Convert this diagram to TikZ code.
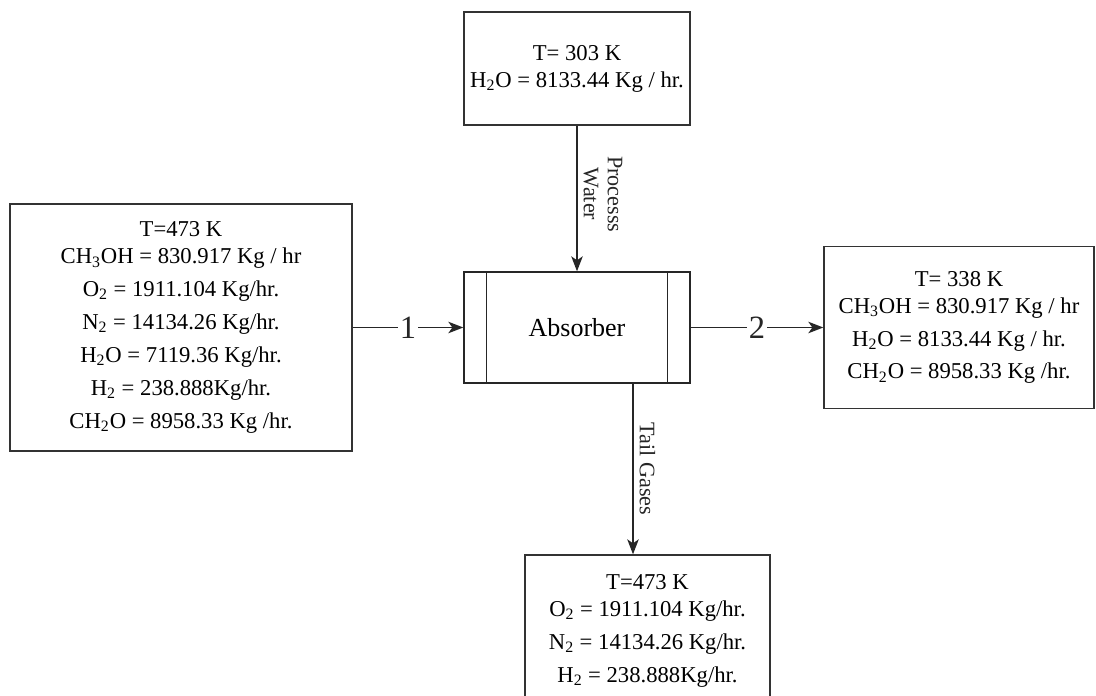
\documentclass[tikz,border=0pt]{standalone}
\usepackage{fontspec}
\setmainfont{Liberation Serif}
\usetikzlibrary{arrows.meta}
\begin{document}
\begin{tikzpicture}[x=0.02cm, y=-0.02cm]
\tikzset{
    >={Stealth[length=0.3cm, width=0.23cm, inset=0.08cm]},
    corrente/.style={->, thick, black!85},
    caixa/.style={rectangle, thick, draw=black!80, align=center, inner sep=0pt,
                  font=\fontsize{12.9}{18.7}\selectfont},
    equipamento/.style={rectangle, thick, draw=black!85, minimum width=4.52cm,
                 minimum height=2.22cm, font=\fontsize{14.8}{18}\selectfont},
    numero/.style={fill=white, inner sep=1pt, font=\fontsize{18.5}{20}\selectfont},
    rotulo/.style={rotate=-90, anchor=south, align=center,
                   font=\fontsize{12.6}{13.6}\selectfont}
}
\clip (0,0) rectangle (1096,696);
\node[caixa, minimum width=4.52cm, minimum height=2.26cm] (agua) at (577,68.5)
    {T= 303 K\\[-3.4pt] H\textsubscript{2}O = 8133.44 Kg / hr.};
\node[equipamento] (abs) at (577,327.5) {Absorber};
\node[caixa, minimum width=6.84cm, minimum height=4.94cm] (entrada) at (181,327.5)
    {T=473 K\\[-3.4pt] CH\textsubscript{3}OH = 830.917 Kg / hr\\
     O\textsubscript{2} = 1911.104 Kg/hr.\\ N\textsubscript{2} = 14134.26 Kg/hr.\\
     H\textsubscript{2}O = 7119.36 Kg/hr.\\ H\textsubscript{2} = 238.888Kg/hr.\\
     CH\textsubscript{2}O = 8958.33 Kg /hr.};
\node[caixa, minimum width=5.4cm, minimum height=3.24cm] (saida) at (959,327.5)
    {T= 338 K\\[-3.4pt] CH\textsubscript{3}OH = 830.917 Kg / hr\\
     H\textsubscript{2}O = 8133.44 Kg / hr.\\ CH\textsubscript{2}O = 8958.33 Kg /hr.};
\node[caixa, minimum width=4.9cm, minimum height=3.04cm] (gases) at (647.5,631)
    {T=473 K\\[-3.4pt] O\textsubscript{2} = 1911.104 Kg/hr.\\
     N\textsubscript{2} = 14134.26 Kg/hr.\\ H\textsubscript{2} = 238.888Kg/hr.};
% paredes internas do absorvedor
\draw[thick, black!85] ([xshift=0.46cm]abs.north west) -- ([xshift=0.46cm]abs.south west);
\draw[thick, black!85] ([xshift=-0.46cm]abs.north east) -- ([xshift=-0.46cm]abs.south east);
% correntes
\draw[corrente] (agua) -- node[rotulo, pos=0.47] {Processs\\Water} (abs);
\draw[corrente] (entrada) -- node[numero] {1} (abs);
\draw[corrente] (abs) -- node[numero] {2} (saida);
\coordinate (tg) at (633,0);
\draw[corrente] (abs.south -| tg) -- node[rotulo] {Tail Gases} (gases.north -| tg);
\end{tikzpicture}
\end{document}
